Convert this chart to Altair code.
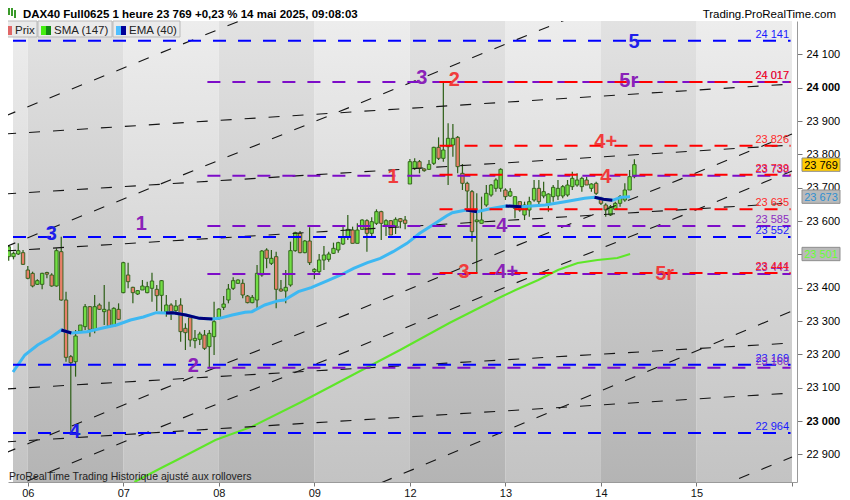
import altair as alt
import pandas as pd

# ---------------------------------------------------------------- axis ticks
day_tick_pos = [0, 1, 2, 3, 4, 5, 6, 7, 8]
day_tick_lbl = ["06", "07", "08", "09", "12", "13", "14", "15", ""]
price_ticks = [22900, 23000, 23100, 23200, 23300, 23400, 23500, 23600,
               23700, 23800, 23900, 24000, 24100]
hidden_tick_labels = [23500]   # covered by the SMA value box

# ---------------------------------------------------------------- hourly candles
# 20 bars per trading day; bar index -4 = last bars of 05 mai
first_bar = -4
bars_per_day = 20
opens = [23493, 23493, 23501, 23505,
         23453, 23443, 23410, 23410, 23445, 23438, 23405, 23508, 23363, 23193,
         23178, 23270, 23283, 23343, 23275, 23348, 23328, 23333, 23285, 23335,
         23385, 23438, 23401, 23381, 23393, 23385, 23398, 23395, 23377, 23328,
         23348, 23331, 23348, 23278, 23310, 23241, 23245, 23258, 23223, 23253,
         23308, 23341, 23363, 23398, 23413, 23413, 23375, 23355, 23363, 23438,
         23513, 23473, 23493, 23396, 23390, 23408, 23511, 23563, 23505, 23540,
         23448, 23448, 23483, 23485, 23503, 23513, 23531, 23553, 23573, 23533,
         23575, 23601, 23563, 23593, 23628, 23588, 23601, 23585, 23607, 23603,
         23711, 23758, 23778, 23755, 23755, 23773, 23821, 23788, 23823, 23828,
         23851, 23743, 23713, 23688, 23598, 23593, 23648, 23678, 23698, 23698,
         23693, 23675, 23638, 23658, 23618, 23633, 23663, 23698, 23675, 23653,
         23673, 23675, 23675, 23678, 23703, 23708, 23703, 23723, 23698, 23713,
         23668, 23648, 23618, 23635, 23653, 23663, 23693, 23733]
highs = [23528, 23508, 23533, 23513,
         23465, 23448, 23425, 23445, 23448, 23443, 23518, 23553, 23388, 23198,
         23273, 23288, 23351, 23345, 23378, 23353, 23408, 23358, 23341, 23353,
         23478, 23475, 23403, 23393, 23423, 23418, 23445, 23408, 23423, 23378,
         23353, 23363, 23368, 23293, 23313, 23273, 23268, 23273, 23273, 23358,
         23338, 23375, 23411, 23431, 23425, 23425, 23378, 23378, 23468, 23513,
         23518, 23513, 23508, 23423, 23453, 23538, 23568, 23570, 23543, 23581,
         23458, 23501, 23525, 23508, 23535, 23538, 23588, 23618, 23583, 23593,
         23605, 23605, 23611, 23635, 23631, 23605, 23603, 23611, 23609, 23615,
         23786, 23788, 23783, 23758, 23783, 23823, 23851, 24018, 23893, 23891,
         23855, 23771, 23718, 23693, 23683, 23673, 23708, 23711, 23728, 23758,
         23698, 23698, 23673, 23658, 23658, 23673, 23723, 23723, 23718, 23683,
         23708, 23723, 23708, 23723, 23748, 23743, 23733, 23733, 23713, 23718,
         23673, 23653, 23648, 23658, 23678, 23713, 23753, 23785]
lows = [23481, 23485, 23498, 23468,
        23425, 23401, 23408, 23395, 23428, 23403, 23403, 23361, 23178, 22966,
        23133, 23268, 23273, 23253, 23263, 23333, 23288, 23283, 23283, 23303,
        23383, 23398, 23353, 23378, 23393, 23383, 23358, 23330, 23328, 23313,
        23303, 23318, 23238, 23213, 23223, 23218, 23228, 23213, 23160, 23198,
        23303, 23333, 23353, 23393, 23411, 23368, 23353, 23353, 23333, 23433,
        23458, 23468, 23338, 23388, 23353, 23403, 23508, 23503, 23503, 23468,
        23425, 23443, 23453, 23478, 23501, 23505, 23528, 23543, 23533, 23533,
        23573, 23508, 23553, 23588, 23543, 23555, 23558, 23561, 23578, 23575,
        23711, 23753, 23743, 23748, 23753, 23768, 23783, 23778, 23708, 23793,
        23743, 23693, 23638, 23538, 23443, 23593, 23643, 23673, 23688, 23688,
        23663, 23673, 23608, 23628, 23603, 23613, 23658, 23643, 23668, 23628,
        23658, 23663, 23668, 23673, 23693, 23703, 23688, 23708, 23688, 23678,
        23648, 23613, 23615, 23633, 23643, 23658, 23693, 23728]
closes = [23523, 23503, 23511, 23470,
          23428, 23405, 23421, 23443, 23441, 23405, 23511, 23363, 23191, 23175,
          23255, 23288, 23343, 23275, 23343, 23335, 23335, 23285, 23338, 23305,
          23475, 23418, 23385, 23391, 23405, 23403, 23420, 23376, 23421, 23348,
          23328, 23345, 23268, 23265, 23243, 23248, 23261, 23218, 23263, 23298,
          23336, 23351, 23396, 23421, 23423, 23378, 23355, 23371, 23443, 23510,
          23488, 23488, 23395, 23390, 23401, 23511, 23565, 23505, 23540, 23475,
          23455, 23483, 23498, 23501, 23518, 23535, 23553, 23575, 23533, 23573,
          23603, 23563, 23598, 23628, 23593, 23601, 23558, 23605, 23598, 23593,
          23778, 23778, 23758, 23752, 23770, 23821, 23788, 23813, 23848, 23848,
          23763, 23713, 23690, 23568, 23603, 23603, 23683, 23708, 23723, 23755,
          23673, 23688, 23673, 23633, 23648, 23658, 23698, 23658, 23688, 23681,
          23701, 23698, 23703, 23708, 23728, 23723, 23728, 23708, 23711, 23683,
          23653, 23633, 23643, 23653, 23673, 23693, 23733, 23769]

# ---------------------------------------------------------------- moving averages
ema_t = [-0.155, -0.031, 0.103, 0.248, 0.351, 0.455, 0.620, 0.796, 0.930, 1.075,
         1.209, 1.344, 1.447, 1.519, 1.654, 1.798, 1.933, 2.005, 2.140, 2.274,
         2.346, 2.481, 2.625, 2.687, 2.832, 2.966, 3.139, 3.276, 3.411, 3.556,
         3.690, 3.824, 3.969, 4.103, 4.238, 4.382, 4.444, 4.589, 4.703, 4.827,
         5.003, 5.168, 5.416, 5.623, 5.829, 5.933, 6.026, 6.119, 6.212, 6.305]
ema_v = [23147, 23198, 23228, 23252, 23273, 23264, 23268, 23280, 23288, 23303,
         23312, 23325, 23324, 23325, 23318, 23308, 23306, 23308, 23318, 23326,
         23328, 23348, 23361, 23363, 23388, 23400, 23421, 23438, 23458, 23475,
         23488, 23508, 23533, 23563, 23588, 23615, 23625, 23633, 23628, 23636,
         23645, 23643, 23648, 23658, 23668, 23671, 23665, 23662, 23671, 23673]
ema_falling = [(0.351, 0.455), (1.447, 1.933), (4.589, 4.703), (5.003, 5.168), (5.933, 6.119)]

sma_t = [1.116, 1.416, 1.561, 1.964, 2.346, 2.863, 3.380, 3.897, 4.413, 4.930,
         5.106, 5.344, 5.550, 5.757, 5.964, 6.171, 6.305]
sma_v = [22817, 22862, 22883, 22943, 22983, 23057, 23135, 23213, 23294, 23369,
         23393, 23423, 23453, 23474, 23483, 23489, 23501]

# ---------------------------------------------------------------- horizontal levels
lev_value = [24141, 23552, 23169, 22964,
             24017, 23736, 23585, 23441, 23160,
             24017, 23826, 23739, 23635, 23444]
lev_color = ["#0000ff"] * 4 + ["#7d0dc8"] * 5 + ["#ff0000"] * 5
lev_start = [-0.155] * 4 + [1.88] * 5 + [4.31] * 5

lab_value = [24141, 24017, 24017, 23826, 23736, 23739, 23635, 23585, 23552,
             23441, 23444, 23169, 23160, 22964]
lab_text = ["24 141", "24 017", "24 017", "23 826", "23 738", "23 739", "23 635",
            "23 585", "23 552", "23 441", "23 444", "23 169", "23 160", "22 964"]
lab_color = ["#1a1aff", "#8c2bc2", "#ff1a1a", "#ff2a2a", "#8c2bc2", "#ff1a1a", "#ff2a2a",
             "#8c2bc2", "#1a1aff", "#8c2bc2", "#ff1a1a", "#1a1aff", "#8c2bc2", "#1a1aff"]

# ---------------------------------------------------------------- wave annotations
ann_text = ["5", "3", "2", "5r", "4+", "1", "4", "1", "3", "4", "3", "4+", "5r", "2", "4"]
ann_t = [6.346, 4.124, 4.465, 6.291, 6.050, 3.824, 6.050, 1.189, 0.245, 4.961,
         4.568, 5.013, 6.667, 1.733, 0.493]
ann_v = [24137, 24028, 24023, 24021, 23836, 23732, 23731, 23591, 23560, 23585,
         23446, 23448, 23441, 23166, 22966]
ann_color = ["#1e1eea", "#8a22b8", "#f03c3c", "#8a22b8", "#f03c3c", "#f03c3c", "#f03c3c",
             "#8a22b8", "#1e1eea", "#8a22b8", "#f03c3c", "#8a22b8", "#f03c3c", "#8a22b8",
             "#1e1eea"]

# ---------------------------------------------------------------- dashed trend lines
diag_t0 = [-0.2377] * 11
diag_v0 = [23861, 23681, 23510, 23096, 22937, 23915, 23522, 22904, 22793, 22343, 21935]
diag_t1 = [8.0] * 11
diag_v1 = [24011, 23828, 23654, 23234, 23084, 24872, 24479, 23861, 23750, 23330, 22892]

# ---------------------------------------------------------------- last values (right scale)
box_value = [23769, 23673, 23501]
box_text = ["23 769", "23 673", "23 501"]
box_fill = ["#ffcc00", "#bababa", "#bababa"]
box_ink = ["#000000", "#2f8fd0", "#66ff33"]

# ================================================================ build
T0, T1 = -0.155, 8.0
V0, V1 = 22817, 24200
xs = alt.Scale(domain=[T0, T1], nice=False, zero=False)
ys = alt.Scale(domain=[V0, V1], nice=False, zero=False)

lbl_expr = "[" + ",".join("'%s'" % s for s in day_tick_lbl) + "][round(datum.value)]"
hide_test = " || ".join("datum.value == %d" % v for v in hidden_tick_labels)
y_lbl_expr = "(%s) ? '' : replace(format(datum.value, ','), ',', ' ')" % hide_test
x_axis = alt.Axis(values=day_tick_pos, labelExpr=lbl_expr, title=None, grid=False,
                  tickSize=4, tickColor="#777777", domainColor="#9a9a9a",
                  labelFontSize=11, labelFont="Liberation Sans", labelColor="#111111",
                  labelPadding=1, labelFlush=False, labelOverlap=False)
y_axis = alt.Axis(orient="right", values=price_ticks, labelExpr=y_lbl_expr,
                  title=None, grid=False, tickSize=5, tickColor="#777777",
                  domainColor="#9a9a9a", labelFontSize=11, labelFont="Liberation Sans",
                  labelColor="#000000", labelPadding=4,
                  labelFontWeight={"condition": {"test": "datum.value % 1000 === 0",
                                                 "value": "bold"}, "value": "normal"})


def X(field):
    return alt.X(field, type="quantitative", scale=xs, axis=x_axis)


def Y(field):
    return alt.Y(field, type="quantitative", scale=ys, axis=y_axis)


def PX(field):
    return alt.X(field, type="quantitative", scale=None, axis=None)


def PY(field):
    return alt.Y(field, type="quantitative", scale=None, axis=None)


def grad(top, bottom):
    return {"gradient": "linear", "x1": 0, "y1": 0, "x2": 0, "y2": 1,
            "stops": [{"offset": 0, "color": top}, {"offset": 1, "color": bottom}]}


bands = pd.DataFrame({"d": list(range(-1, 8))})
bands["t0"] = bands["d"].clip(lower=T0)
bands["t1"] = bands["d"] + 1
bands["v0"] = V0
bands["v1"] = V1
light = bands[bands["d"] % 2 != 0]
dark = bands[bands["d"] % 2 == 0]

band_light = alt.Chart(light).mark_rect(color=grad("#ededed", "#c3c3c3")).encode(
    x=X("t0"), x2="t1:Q", y=Y("v0"), y2="v1:Q")
band_dark = alt.Chart(dark).mark_rect(color=grad("#e2e2e2", "#b4b4b4")).encode(
    x=X("t0"), x2="t1:Q", y=Y("v0"), y2="v1:Q")

# candles
n = min(len(opens), len(highs), len(lows), len(closes))
rows = []
for i in range(n):
    o, h, l, c = opens[i], highs[i], lows[i], closes[i]
    top, bot = max(o, c), min(o, c)
    if top - bot < 5:
        mid = (top + bot) / 2.0
        top, bot = mid + 2.5, mid - 2.5
    rows.append(dict(t=(first_bar + i) / bars_per_day, hi=max(h, top), lo=min(l, bot),
                     top=top, bot=bot, dir="up" if c >= o else "down"))
cdf = pd.DataFrame(rows)

wicks = alt.Chart(cdf).mark_rule(color="#2c5e16", strokeWidth=1.2, clip=True).encode(
    x=X("t"), y=Y("lo"), y2="hi:Q")
bodies = alt.Chart(cdf).mark_bar(size=3.4, stroke="#2c5e16", strokeWidth=0.9, clip=True).encode(
    x=X("t"), y=Y("bot"), y2="top:Q",
    color=alt.Color("dir:N", scale=alt.Scale(domain=["up", "down"],
                                             range=["#72de45", "#e8806a"]), legend=None))

# moving averages
ema = pd.DataFrame({"t": ema_t, "v": ema_v})
seg_rows = []
for si, (a, b) in enumerate(ema_falling):
    for tt, vv in zip(ema_t, ema_v):
        if a - 1e-6 <= tt <= b + 1e-6:
            seg_rows.append(dict(t=tt, v=vv, seg=si))
ema_dark = pd.DataFrame(seg_rows)
sma = pd.DataFrame({"t": sma_t, "v": sma_v})

sma_line = alt.Chart(sma).mark_line(color="#5ee628", strokeWidth=2, clip=True).encode(
    x=X("t"), y=Y("v"))
ema_line = alt.Chart(ema).mark_line(color="#3db8f2", strokeWidth=3, clip=True).encode(
    x=X("t"), y=Y("v"))
ema_dark_line = alt.Chart(ema_dark).mark_line(color="#00007a", strokeWidth=3, clip=True).encode(
    x=X("t"), y=Y("v"), detail="seg:N")

# trend lines
diag = pd.DataFrame({"t0": diag_t0, "v0": diag_v0, "t1": diag_t1, "v1": diag_v1})
diag_layer = alt.Chart(diag).mark_rule(color="#151515", strokeWidth=1.1,
                                       strokeDash=[11, 13], clip=True).encode(
    x=X("t0"), y=Y("v0"), x2="t1:Q", y2="v1:Q")

# levels
lev = pd.DataFrame({"v": lev_value, "color": lev_color, "t0": lev_start})
lev["t1"] = 7.985
lev["order"] = range(len(lev))
lev_layer = alt.Chart(lev).mark_rule(strokeWidth=2, strokeDash=[13, 12], clip=True).encode(
    x=X("t0"), x2="t1:Q", y=Y("v"),
    color=alt.Color("color:N", scale=None), detail="order:N")

labs = pd.DataFrame({"v": lab_value, "text": lab_text, "color": lab_color})
labs["t"] = 7.969
lab_layer = alt.Chart(labs).mark_text(fontSize=11, font="Liberation Sans", align="right",
                                      baseline="alphabetic", dy=-3).encode(
    x=X("t"), y=Y("v"), text="text:N", color=alt.Color("color:N", scale=None))

ann = pd.DataFrame({"t": ann_t, "v": ann_v, "text": ann_text, "color": ann_color})
ann_layer = alt.Chart(ann).mark_text(fontSize=20, fontWeight="bold", font="Liberation Sans",
                                     align="center", baseline="middle").encode(
    x=X("t"), y=Y("v"), text="text:N", color=alt.Color("color:N", scale=None))

# last-value boxes on the price scale
box = pd.DataFrame({"v": box_value, "text": box_text, "fill": box_fill, "ink": box_ink})
box["lo"] = box["v"] - 20
box["hi"] = box["v"] + 20
box["px0"] = 794
box["px1"] = 832
box["pxc"] = 813
box_rect = alt.Chart(box).mark_rect(stroke="#8f8f8f", strokeWidth=1).encode(
    x=PX("px0"), x2="px1:Q", y=Y("lo"), y2="hi:Q", color=alt.Color("fill:N", scale=None))
box_txt = alt.Chart(box).mark_text(fontSize=11, font="Liberation Sans", align="center",
                                   baseline="middle", dy=1).encode(
    x=PX("pxc"), y=Y("v"), text="text:N", color=alt.Color("ink:N", scale=None))

# header, legend tabs and footer (pixel placed decorations)
tabs = pd.DataFrame({"px0": [-8, 30, 105], "px1": [29, 104, 172],
                     "py0": [0, 0, 0], "py1": [16, 16, 16]})
tab_rect = alt.Chart(tabs).mark_rect(color="#eaeaea", stroke="#b9b9b9", strokeWidth=1).encode(
    x=PX("px0"), x2="px1:Q", y=PY("py0"), y2="py1:Q")
icons = pd.DataFrame({"px0": [-5, -1, 33, 38, 108, 113], "px1": [-1, 4, 38, 43, 113, 118],
                      "py0": [5] * 6, "py1": [14] * 6,
                      "c": ["#55cc55", "#e06666", "#44ee11", "#138a13", "#4fbfff", "#00009a"]})
icon_rect = alt.Chart(icons).mark_rect().encode(
    x=PX("px0"), x2="px1:Q", y=PY("py0"), y2="py1:Q", color=alt.Color("c:N", scale=None))
tab_txt = alt.Chart(pd.DataFrame({"px": [7, 46, 121], "py": [13, 13, 13],
                                  "text": ["Prix", "SMA (147)", "EMA (40)"]})).mark_text(
    fontSize=11.5, font="Liberation Sans", align="left", baseline="alphabetic",
    color="#222222").encode(x=PX("px"), y=PY("py"), text="text:N")

head = pd.DataFrame({"px": [15], "py": [-3],
                     "text": ["DAX40 Full0625 1 heure 23 769 +0,23 % 14 mai 2025, 09:08:03"]})
head_txt = alt.Chart(head).mark_text(fontSize=11.5, fontWeight="bold", font="Liberation Sans",
                                     align="left", baseline="alphabetic", color="#000000").encode(
    x=PX("px"), y=PY("py"), text="text:N")
site = pd.DataFrame({"px": [828], "py": [-3], "text": ["Trading.ProRealTime.com"]})
site_txt = alt.Chart(site).mark_text(fontSize=11.5, font="Liberation Sans", align="right",
                                     baseline="alphabetic", color="#000000").encode(
    x=PX("px"), y=PY("py"), text="text:N")
icon_c = pd.DataFrame({"px": [1, 4, 7], "lo": [-13, -16, -11], "hi": [-6, -5, -3]})
head_icon = alt.Chart(icon_c).mark_rule(color="#3a9a2a", strokeWidth=2).encode(
    x=PX("px"), y=PY("lo"), y2="hi:Q")
foot = pd.DataFrame({"px": [1], "py": [459],
                     "text": ["ProRealTime Trading  Historique ajusté aux rollovers"]})
foot_txt = alt.Chart(foot).mark_text(fontSize=10.5, font="Liberation Sans", align="left",
                                     baseline="alphabetic", color="#222222").encode(
    x=PX("px"), y=PY("py"), text="text:N")

chart = alt.layer(
    band_light, band_dark,
    wicks, bodies,
    sma_line, ema_line, ema_dark_line,
    diag_layer, lev_layer,
    lab_layer, ann_layer,
    box_rect, box_txt,
    tab_rect, icon_rect, tab_txt,
    head_icon, head_txt, site_txt, foot_txt,
).properties(
    width=789, height=461,
    padding={"left": 0, "top": 13, "right": 44, "bottom": 15},
    autosize=alt.AutoSizeParams(type="none"),
    background="white",
).configure_view(stroke=None)

chart.save("out.html", embed_options={"renderer": "svg", "actions": False})
